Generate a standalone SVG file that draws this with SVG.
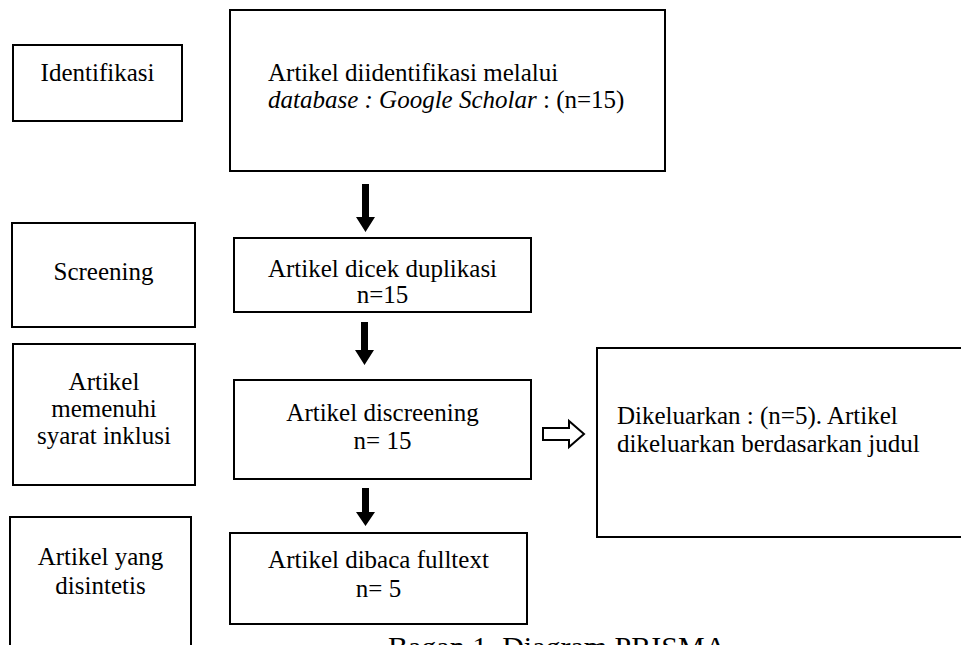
<svg xmlns="http://www.w3.org/2000/svg" width="961" height="645" viewBox="0 0 961 645">
<defs>
<style>
.box{fill:#fff;stroke:#000;stroke-width:2}
.t{font-family:"Liberation Serif","Times New Roman",serif;font-size:25px;fill:#000}
.c{text-anchor:middle}
.solid{fill:#000;stroke:none}
.hollow{fill:#fff;stroke:#000;stroke-width:2;stroke-linejoin:miter}
</style>
</defs>
<rect width="961" height="645" fill="#fff"/>
<g id="identifikasi">
<rect class="box" x="13" y="45" width="169" height="76"/>
<text class="t c" x="97.5" y="81">Identifikasi</text>
</g>
<g id="artikel-diidentifikasi">
<rect class="box" x="230" y="10" width="435" height="161"/>
<text class="t" x="268" y="81">Artikel diidentifikasi melalui</text>
<text class="t" x="268" y="108"><tspan font-style="italic">database : Google Scholar</tspan> : (n=15)</text>
</g>
<g id="screening">
<rect class="box" x="12" y="223" width="183" height="104"/>
<text class="t c" x="103.5" y="280">Screening</text>
</g>
<g id="artikel-dicek">
<rect class="box" x="234" y="238" width="297" height="74"/>
<text class="t c" x="382.5" y="277">Artikel dicek duplikasi</text>
<text class="t c" x="382.5" y="303">n=15</text>
</g>
<g id="artikel-memenuhi">
<rect class="box" x="13" y="344" width="182" height="141"/>
<text class="t c" x="104" y="390">Artikel</text>
<text class="t c" x="104" y="417">memenuhi</text>
<text class="t c" x="104" y="444">syarat inklusi</text>
</g>
<g id="artikel-discreening">
<rect class="box" x="234" y="380" width="297" height="99"/>
<text class="t c" x="382.5" y="421">Artikel discreening</text>
<text class="t c" x="382.5" y="449">n= 15</text>
</g>
<g id="dikeluarkan">
<rect class="box" x="597" y="348" width="380" height="189"/>
<text class="t" x="617" y="424">Dikeluarkan : (n=5). Artikel</text>
<text class="t" x="617" y="452">dikeluarkan berdasarkan judul</text>
</g>
<g id="artikel-disintetis">
<rect class="box" x="10" y="517" width="181" height="150"/>
<text class="t c" x="100.5" y="565">Artikel yang</text>
<text class="t c" x="100.5" y="594">disintetis</text>
</g>
<g id="artikel-fulltext">
<rect class="box" x="230" y="533" width="297" height="91"/>
<text class="t c" x="378.5" y="568">Artikel dibaca fulltext</text>
<text class="t c" x="378.5" y="597">n= 5</text>
</g>
<g id="connectors">
<polygon class="solid" points="362,184 369,184 369,217 375,217 365.5,232 356,217 362,217"/>
<polygon class="solid" points="361,322 368,322 368,350 374,350 364.5,365 355,350 361,350"/>
<polygon class="solid" points="362,488 369,488 369,512 375,512 365.5,526 356,512 362,512"/>
<polygon class="hollow" points="543,428 569,428 569,421 584,434 569,447 569,440 543,440"/>
</g>
<g id="caption">
<text class="t" x="388" y="657" style="font-size:30px">Bagan 1. Diagram PRISMA</text>
</g>
</svg>
